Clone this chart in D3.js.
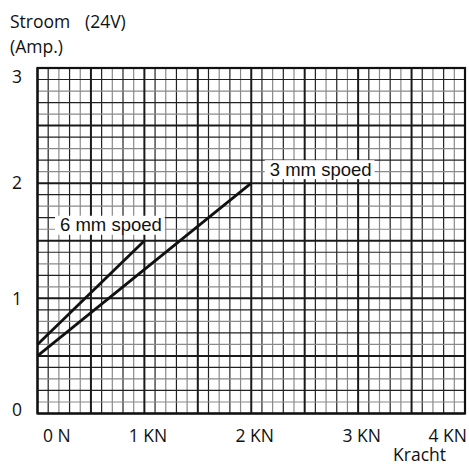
<!DOCTYPE html>
<html>
<head>
<meta charset="utf-8">
<script src="https://cdn.jsdelivr.net/npm/d3@7"></script>
<style>
  html, body { margin: 0; padding: 0; background: #fff; }
  svg { display: block; }
</style>
</head>
<body>
<svg id="chart" width="469" height="465"></svg>
<script>
// ---- data ----
const xTickValues = [0, 1, 2, 3, 4];
const xTickLabels = ["0 N", "1 KN", "2 KN", "3 KN", "4 KN"];
const yTickValues = [0, 1, 2, 3];
const yTickLabels = ["0", "1", "2", "3"];
const series6mmX = [0, 1];
const series6mmY = [0.6, 1.5];
const series3mmX = [0, 2];
const series3mmY = [0.5, 2.0];
const seriesNames = ["6 mm spoed", "3 mm spoed"];
const yTitleLines = ["Stroom", "(24V)", "(Amp.)"];
const xTitle = "Kracht";

// ---- layout ----
const W = 469, H = 465;
const plot = { left: 37.5, right: 465, top: 68, bottom: 413.5 };
const svg = d3.select("#chart");
const x = d3.scaleLinear().domain([0, 4]).range([plot.left, plot.right]);
const y = d3.scaleLinear().domain([0, 3]).range([plot.bottom, plot.top]);

const axisFont = "'Open Sans', 'Noto Sans', sans-serif";
const axisSize = 17.5;
const labelFont = "'Liberation Sans', Arial, sans-serif";

// minor grid
const minorX = d3.range(0, 41).map(i => i / 10).filter((v, i) => i % 5 !== 0);
const minorY = d3.range(0, 31).map(i => i / 10).filter((v, i) => i % 5 !== 0);
const g = svg.append("g");
g.selectAll("line.mx").data(minorX).join("line")
  .attr("x1", d => x(d)).attr("x2", d => x(d))
  .attr("y1", plot.top).attr("y2", plot.bottom)
  .attr("stroke", (d, i) => (i % 2 === 0 ? "#222" : "#8a8a8a"))
  .attr("stroke-width", 1.2);
g.selectAll("line.my").data(minorY).join("line")
  .attr("y1", d => y(d)).attr("y2", d => y(d))
  .attr("x1", plot.left).attr("x2", plot.right)
  .attr("stroke", (d, i) => (i % 2 === 0 ? "#8a8a8a" : "#222"))
  .attr("stroke-width", 1.2);

// major grid
const majorX = d3.range(0, 9).map(i => i / 2);
const majorY = d3.range(0, 7).map(i => i / 2);
g.selectAll("line.Mx").data(majorX).join("line")
  .attr("x1", d => x(d)).attr("x2", d => x(d))
  .attr("y1", plot.top).attr("y2", plot.bottom)
  .attr("stroke", "#1a1a1a").attr("stroke-width", 2);
g.selectAll("line.My").data(majorY).join("line")
  .attr("y1", d => y(d)).attr("y2", d => y(d))
  .attr("x1", plot.left).attr("x2", plot.right)
  .attr("stroke", "#1a1a1a").attr("stroke-width", 2);

// border
svg.append("rect")
  .attr("x", plot.left).attr("y", plot.top)
  .attr("width", plot.right - plot.left).attr("height", plot.bottom - plot.top)
  .attr("fill", "none").attr("stroke", "#111").attr("stroke-width", 2.2);

// series lines
const line = d3.line().x(d => x(d[0])).y(d => y(d[1]));
const s6 = series6mmX.map((v, i) => [v, series6mmY[i]]);
const s3 = series3mmX.map((v, i) => [v, series3mmY[i]]);
[s6, s3].forEach(s => {
  svg.append("path").attr("d", line(s))
    .attr("fill", "none").attr("stroke", "#111").attr("stroke-width", 2.8);
});

// series labels with white boxes
function seriesLabel(text, bx, by) {
  const t = svg.append("text")
    .attr("x", bx).attr("y", by)
    .attr("font-family", labelFont).attr("font-size", 18.5)
    .attr("fill", "#111").text(text);
  const bb = t.node().getBBox();
  svg.insert("rect", function() { return t.node(); })
    .attr("x", bb.x - 5).attr("y", by - 15.5)
    .attr("width", bb.width + 8).attr("height", 19)
    .attr("fill", "#fff");
}
seriesLabel(seriesNames[0], x(series6mmX[0]) + 22.5, y(series6mmY[1]) - 9.5);
seriesLabel(seriesNames[1], x(series3mmX[1]) + 18.5, y(series3mmY[1]) - 7.5);

// y tick labels
svg.selectAll("text.yt").data(yTickValues).join("text")
  .attr("x", 17)
  .attr("y", d => Math.min(Math.max(y(d), plot.top + 8.5), plot.bottom - 3.5))
  .attr("dy", "0.36em")
  .attr("text-anchor", "middle")
  .attr("font-family", axisFont).attr("font-size", axisSize).attr("fill", "#111")
  .text((d, i) => yTickLabels[i]);

// x tick labels
svg.selectAll("text.xt").data(xTickValues).join("text")
  .attr("x", (d, i) => i === 0 ? x(d) + 5.5 : (i === xTickValues.length - 1 ? x(d) + 2 : x(d) + 3.5))
  .attr("y", 441.5)
  .attr("text-anchor", (d, i) => i === 0 ? "start" : (i === xTickValues.length - 1 ? "end" : "middle"))
  .attr("font-family", axisFont).attr("font-size", axisSize).attr("fill", "#111")
  .text((d, i) => xTickLabels[i]);

// titles
svg.append("text").attr("x", 10).attr("y", 27.5)
  .attr("font-family", axisFont).attr("font-size", axisSize).attr("fill", "#111")
  .text(yTitleLines[0]);
svg.append("text").attr("x", 85).attr("y", 27.5)
  .attr("font-family", axisFont).attr("font-size", axisSize).attr("fill", "#111")
  .text(yTitleLines[1]);
svg.append("text").attr("x", 10).attr("y", 53)
  .attr("font-family", axisFont).attr("font-size", axisSize).attr("fill", "#111")
  .text(yTitleLines[2]);
svg.append("text").attr("x", 446).attr("y", 460.5)
  .attr("text-anchor", "end")
  .attr("font-family", axisFont).attr("font-size", axisSize).attr("fill", "#111")
  .text(xTitle);
</script>
</body>
</html>
